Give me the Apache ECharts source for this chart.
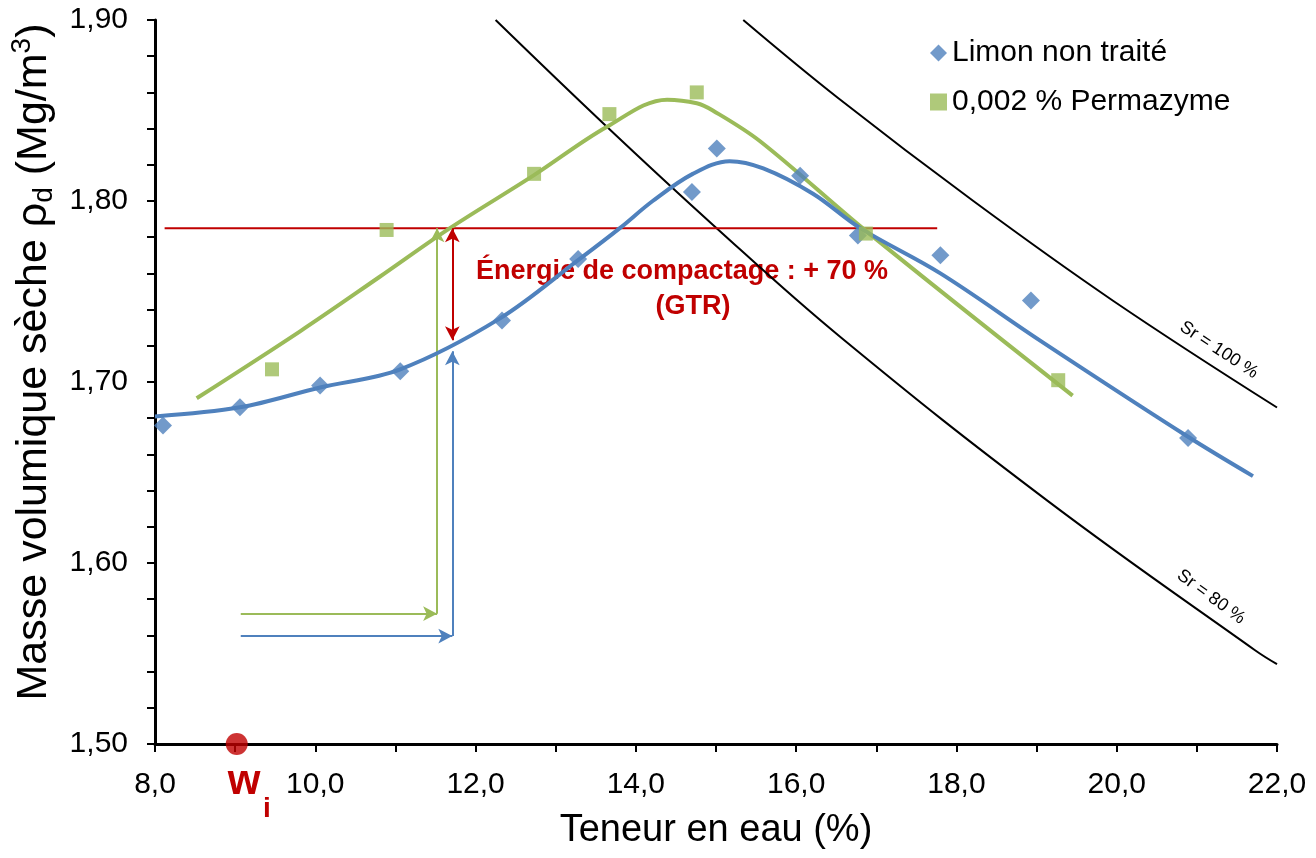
<!DOCTYPE html>
<html>
<head>
<meta charset="utf-8">
<script src="https://cdn.jsdelivr.net/npm/echarts@6/dist/echarts.min.js"></script>
<style>
html,body{margin:0;padding:0;background:#fff;}
#chart{width:1316px;height:858px;}
</style>
</head>
<body>
<div id="chart"></div>
<script>
// ---- data ----
const limonPoints = [[8.10,1.676],[9.06,1.686],[10.06,1.698],[11.06,1.706],[12.33,1.734],[13.28,1.768],[14.70,1.805],[15.01,1.829],[16.05,1.814],[16.77,1.781],[17.80,1.770],[18.93,1.745],[20.89,1.669]];
const permaPoints = [[9.46,1.707],[10.89,1.784],[12.73,1.815],[13.67,1.848],[14.76,1.860],[16.87,1.782],[19.27,1.701]];
const limonFit = [[8.00,1.681],[9.06,1.686],[10.06,1.697],[11.06,1.707],[12.30,1.735],[13.30,1.768],[13.80,1.785],[14.21,1.800],[14.71,1.815],[15.17,1.822],[15.59,1.818],[16.21,1.804],[16.80,1.785],[17.80,1.760],[19.04,1.723],[20.88,1.670],[21.70,1.648]];
const permaFit = [[8.52,1.691],[9.81,1.728],[10.80,1.758],[11.68,1.785],[12.72,1.814],[13.64,1.841],[14.39,1.856],[14.76,1.854],[14.96,1.850],[15.55,1.833],[16.87,1.7835],[19.45,1.6925]];
const sr80 = [[12.25,1.900],[13.615,1.842],[14.963,1.7868],[16.548,1.725],[19.13,1.6346],[21.726,1.5518],[22.0,1.5441]];
const sr100 = [[15.34,1.900],[16.523,1.8569],[18.207,1.8001],[19.954,1.7449],[22.0,1.6859]];
const refLevel = [[8.12,1.785],[17.76,1.785]];
const energyArrow = [[11.71,1.785],[11.71,1.723]];
const greenArrowH = [[9.07,1.572],[11.52,1.572]];
const greenArrowV = [[11.52,1.572],[11.52,1.785]];
const blueArrowH = [[9.07,1.5596],[11.71,1.5596]];
const blueArrowV = [[11.71,1.5596],[11.71,1.717]];
const wiPoint = [[9.02,1.50]];
const seriesNames = ['Limon non traité','0,002 % Permazyme'];
const xTicks = {min:8, max:22, interval:2};
const yTicks = {min:1.5, max:1.9, interval:0.1};

const BLUE = '#4F81BD', GREEN = '#9BBB59', RED = '#C00000';
const FONT = '"Liberation Sans", Arial, sans-serif';

function seg(pts, color, symbols){
  return {coords: pts, symbol: symbols, lineStyle:{color:color, width:2, type:'solid'}};
}
function ml(items){
  return {
    silent:true, animation:false, label:{show:false}, emphasis:{disabled:true},
    symbolSize:[11,14], precision:4,
    data: items.map(it => [{coord:it.coords[0], symbol:it.symbol[0], lineStyle:it.lineStyle},
                           {coord:it.coords[1], symbol:it.symbol[1]}])
  };
}

const chart = echarts.init(document.getElementById('chart'), null, {renderer:'canvas'});
chart.setOption({
  animation:false,
  textStyle:{fontFamily:FONT},
  grid:{left:155, right:39, top:20, bottom:114, containLabel:false},
  legend:{
    data:[{name:seriesNames[0], icon:'diamond'},{name:seriesNames[1], icon:'rect'}],
    orient:'vertical', left:925, top:33, itemGap:19, itemWidth:17, itemHeight:17,
    textStyle:{fontFamily:FONT, fontSize:30, color:'#000'}
  },
  xAxis:{
    type:'value', min:xTicks.min, max:xTicks.max, interval:xTicks.interval,
    name:'Teneur en eau (%)', nameLocation:'middle', nameGap:68,
    nameTextStyle:{fontFamily:FONT, fontSize:38, color:'#000'},
    axisLine:{lineStyle:{color:'#000', width:3}},
    axisTick:{show:true, length:8, lineStyle:{color:'#000', width:2}},
    minorTick:{show:true, splitNumber:2, length:8, lineStyle:{color:'#000', width:2}},
    splitLine:{show:false},
    axisLabel:{fontFamily:FONT, fontSize:30, color:'#000', margin:26,
      formatter:v=>v.toFixed(1).replace('.',',')}
  },
  yAxis:{
    type:'value', min:yTicks.min, max:yTicks.max, interval:yTicks.interval,
    name:'Masse volumique sèche ρ{sub|d} (Mg/m{sup|3})', nameLocation:'middle', nameGap:92, nameRotate:90,
    nameTextStyle:{fontFamily:FONT, fontSize:43, color:'#000', lineHeight:50, padding:[0,0,0,40],
      rich:{sub:{fontFamily:FONT, fontSize:28, color:'#000', verticalAlign:'bottom', lineHeight:46},
            sup:{fontFamily:FONT, fontSize:28, color:'#000', verticalAlign:'top', lineHeight:50}}},
    axisLine:{show:true, lineStyle:{color:'#000', width:3}},
    axisTick:{show:true, length:8, lineStyle:{color:'#000', width:2}},
    minorTick:{show:true, splitNumber:5, length:8, lineStyle:{color:'#000', width:2}},
    splitLine:{show:false},
    axisLabel:{fontFamily:FONT, fontSize:30, color:'#000', margin:27,
      formatter:v=>v.toFixed(2).replace('.',',')}
  },
  series:[
    {type:'line', name:'sr80', data:sr80, smooth:0.4, showSymbol:false, symbol:'none',
     lineStyle:{color:'#000', width:2}, z:2, silent:true},
    {type:'line', name:'sr100', data:sr100, smooth:0.4, showSymbol:false, symbol:'none',
     lineStyle:{color:'#000', width:2}, z:2, silent:true},
    {type:'line', name:'refLevel', data:refLevel, showSymbol:false, symbol:'none',
     lineStyle:{color:RED, width:2}, z:3, silent:true,
     markLine: ml([seg(energyArrow, RED, ['arrow','arrow'])])},
    {type:'line', name:'greenFit', data:permaFit, smooth:0.35, showSymbol:false, symbol:'none',
     lineStyle:{color:GREEN, width:4}, z:4, silent:true,
     markLine: ml([seg(greenArrowH, GREEN, ['none','arrow']), seg(greenArrowV, GREEN, ['none','arrow'])])},
    {type:'line', name:'blueFit', data:limonFit, smooth:0.35, showSymbol:false, symbol:'none',
     lineStyle:{color:BLUE, width:4}, z:5, silent:true,
     markLine: ml([seg(blueArrowH, BLUE, ['none','arrow']), seg(blueArrowV, BLUE, ['none','arrow'])])},
    {type:'scatter', name:seriesNames[0], data:limonPoints, symbol:'diamond', symbolSize:18,
     itemStyle:{color:BLUE}, z:6},
    {type:'scatter', name:seriesNames[1], data:permaPoints, symbol:'rect', symbolSize:14,
     itemStyle:{color:GREEN}, z:7},
    {type:'scatter', name:'wi', data:wiPoint, symbol:'circle', symbolSize:22, clip:false,
     itemStyle:{color:RED}, z:10, silent:true}
  ],
  graphic:[
    {type:'text', x:682, y:272, silent:true,
     style:{text:'Énergie de compactage : + 70 %', fill:RED, font:'bold 27px '+FONT, align:'center', verticalAlign:'middle'}},
    {type:'text', x:693, y:307, silent:true,
     style:{text:'(GTR)', fill:RED, font:'bold 27px '+FONT, align:'center', verticalAlign:'middle'}},
    {type:'text', x:1219, y:350, rotation:-0.58, silent:true,
     style:{text:'Sr = 100 %', fill:'#000', font:'18px '+FONT, align:'center', verticalAlign:'middle'}},
    {type:'text', x:1211, y:597, rotation:-0.63, silent:true,
     style:{text:'Sr = 80 %', fill:'#000', font:'18px '+FONT, align:'center', verticalAlign:'middle'}},
    {type:'text', x:244, y:803, silent:true,
     style:{text:'w', fill:RED, font:'bold 42px '+FONT, align:'center', verticalAlign:'bottom'}},
    {type:'text', x:267, y:823, silent:true,
     style:{text:'i', fill:RED, font:'bold 28px '+FONT, align:'center', verticalAlign:'bottom'}}
  ]
});
</script>
</body>
</html>
